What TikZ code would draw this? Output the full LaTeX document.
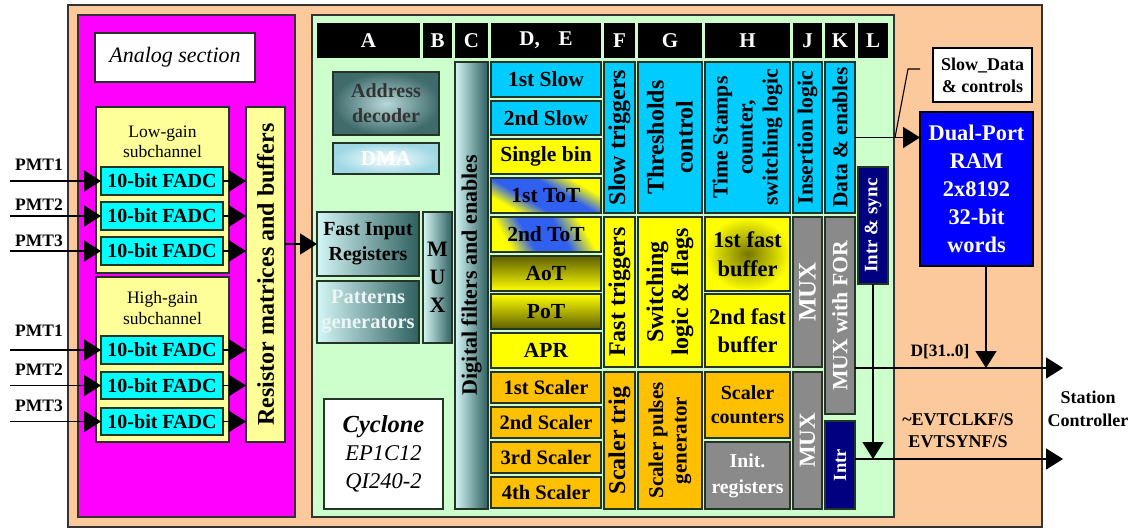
\documentclass[tikz,border=0pt]{standalone}
\usepackage{fontspec}
\setmainfont{Liberation Serif}
\usetikzlibrary{arrows.meta}
\definecolor{peach}{HTML}{FBC99B}
\definecolor{mag}{HTML}{FF00FF}
\definecolor{ltyel}{HTML}{FFFF99}
\definecolor{fadc}{HTML}{00FFFF}
\definecolor{ltgreen}{HTML}{CCFFCC}
\definecolor{cyanb}{HTML}{00CCFF}
\definecolor{yel}{HTML}{FFFF00}
\definecolor{orng}{HTML}{FFC000}
\definecolor{grayb}{HTML}{8A8A8A}
\definecolor{navyb}{HTML}{000080}
\definecolor{ramblue}{HTML}{0000FF}
\definecolor{tealL}{HTML}{D4F6F6}
\definecolor{tealD}{HTML}{2F5F5F}
\definecolor{tealM}{HTML}{B8D8D8}
\definecolor{tealO}{HTML}{3F6B6B}
\definecolor{dmaO}{HTML}{9ED8E4}
\definecolor{oliveD}{HTML}{5E5E00}
\definecolor{totblue}{HTML}{3060F0}
\definecolor{bordc}{HTML}{253525}
\pgfdeclarehorizontalshading{totsh}{100bp}{color(0bp)=(yel); color(27bp)=(yel); color(40bp)=(totblue); color(58bp)=(totblue); color(72bp)=(yel); color(100bp)=(yel)}
\newcommand\fsz[2]{\fontsize{#1}{#2}\selectfont}
\newcommand\bx[7]{\node[#6, minimum width={(#4)-(#2)}, minimum height={(#5)-(#3)}] (#1) at ({((#2)+(#4))/2},{((#3)+(#5))/2}) {#7};}
\begin{document}
\begin{tikzpicture}[x=1pt,y=-1pt,
 box/.style={draw=bordc, line width=1.1pt, inner sep=0pt, outer sep=0pt, align=center},
 outerbox/.style={draw=black!80, line width=1.6pt, inner sep=0pt, outer sep=0pt},
 hdr/.style={fill=black, inner sep=0pt, outer sep=0pt, text=white, font=\fsz{21}{24}\bfseries},
 fadcbox/.style={box, fill=fadc, font=\fsz{20}{22}\bfseries},
 de/.style={box, font=\fsz{21.5}{24}\bfseries},
 arr/.style={line width=1.5pt, -{Triangle[length=17pt,width=21pt]}},
 plainline/.style={line width=1.5pt},
 rtext/.style={rotate=90, align=center, inner sep=0pt},
 lab/.style={inner sep=0pt, align=center, font=\fsz{18}{22}\bfseries},
 tgrad/.style={left color=tealL, right color=tealD},
 olivedown/.style={top color=oliveD, bottom color=yel},
 oliveup/.style={top color=yel, bottom color=oliveD},
 tot/.style={shade, shading=totsh, shading angle=60},
 ]
\useasboundingbox (0,0) rectangle (1135,528);
% outer frames
\bx{outer}{68}{5}{1042}{527}{outerbox, fill=peach}{}
\bx{analog}{78}{15}{295}{517}{outerbox, fill=mag}{}
\bx{alab}{95}{33}{255}{82}{box, fill=white, font=\fsz{22}{26}\itshape}{Analog section}
% subchannels
\bx{lowg}{96}{107}{229}{273}{box, fill=ltyel}{}
\node[inner sep=0pt, align=center, font=\fsz{17.5}{19.5}] (lowt) at (162.5,142) {Low-gain\\subchannel};
\bx{highg}{96}{277}{229}{442}{box, fill=ltyel}{}
\node[inner sep=0pt, align=center, font=\fsz{17.5}{20.5}] (hight) at (162.5,308) {High-gain\\subchannel};
\bx{fl1}{101}{167}{223}{195}{fadcbox}{10-bit FADC}
\bx{fl2}{101}{202}{223}{230}{fadcbox}{10-bit FADC}
\bx{fl3}{101}{237}{223}{265}{fadcbox}{10-bit FADC}
\bx{fh1}{101}{336}{223}{364}{fadcbox}{10-bit FADC}
\bx{fh2}{101}{372}{223}{399}{fadcbox}{10-bit FADC}
\bx{fh3}{101}{408}{223}{435}{fadcbox}{10-bit FADC}
\bx{res}{246}{107}{285}{442}{box, fill=ltyel}{}
\node[rtext, font=\fsz{24}{26}\bfseries] (rest) at (res) {Resistor matrices and buffers};
% PMT inputs
\node[lab, font=\fsz{17.5}{20}\bfseries] (pl1) at (39,165) {PMT1};
\node[lab, font=\fsz{17.5}{20}\bfseries] (pl2) at (39,205) {PMT2};
\node[lab, font=\fsz{17.5}{20}\bfseries] (pl3) at (39,241) {PMT3};
\node[lab, font=\fsz{17.5}{20}\bfseries] (ph1) at (39,331) {PMT1};
\node[lab, font=\fsz{17.5}{20}\bfseries] (ph2) at (39,370) {PMT2};
\node[lab, font=\fsz{17.5}{20}\bfseries] (ph3) at (39,406) {PMT3};
\coordinate (il1) at (10,181);
\coordinate (il2) at (10,216);
\coordinate (il3) at (10,251);
\coordinate (ih1) at (10,350);
\coordinate (ih2) at (10,385.5);
\coordinate (ih3) at (10,421.5);
\foreach \f in {l1,l2,l3,h1,h2,h3}{
  \draw[arr] (i\f) -- (f\f.west);
  \draw[arr] (f\f.east) -- (f\f.east -| res.west);
}
% digital section
\bx{digital}{312}{15}{894}{517}{outerbox, fill=ltgreen}{}
\bx{hA}{317}{23}{420}{58}{hdr}{A}
\bx{hB}{423}{23}{452}{58}{hdr}{B}
\bx{hC}{455}{23}{488}{58}{hdr}{C}
\bx{hDE}{491}{23}{601}{58}{hdr}{D,\hspace{0.9em}E}
\bx{hF}{604}{23}{635}{58}{hdr}{F}
\bx{hG}{638}{23}{702}{58}{hdr}{G}
\bx{hH}{705}{23}{790}{58}{hdr}{H}
\bx{hJ}{793}{23}{822}{58}{hdr}{J}
\bx{hK}{825}{23}{855}{58}{hdr}{K}
\bx{hL}{858}{23}{888}{58}{hdr}{L}
% column A, B
\bx{addr}{333}{72}{439}{135}{box, inner color=tealM, outer color=tealO, text=black!80, font=\fsz{20}{25}\bfseries}{Address\\decoder}
\bx{dma}{333}{143}{439}{174}{box, inner color=white, outer color=dmaO, text=white, font=\fsz{21}{24}\bfseries}{DMA}
\bx{fir}{317}{212}{419}{276}{box, tgrad, font=\fsz{20}{25}\bfseries}{Fast Input\\Registers}
\bx{pat}{317}{281}{419}{343}{box, tgrad, text=white!92!teal, font=\fsz{20.5}{25}\bfseries}{Patterns\\generators}
\bx{muxb}{423}{212}{452}{343}{box, tgrad, font=\fsz{22}{28}\bfseries}{M\\U\\X}
\bx{cyc}{324}{399}{443}{509}{box, fill=white, font=\fsz{22.5}{28}\itshape}{{\fsz{24.5}{28}\bfseries Cyclone}\\EP1C12\\QI240-2}
% column C
\bx{dig}{455}{62}{488}{509}{box, tgrad}{}
\node[rtext, font=\fsz{22}{24}\bfseries] (digt) at (471.5,275) {Digital filters and enables};
% column D,E
\bx{s1}{491}{62}{601}{97}{de, fill=cyanb}{1st Slow}
\bx{s2}{491}{101}{601}{135}{de, fill=cyanb}{2nd Slow}
\bx{sb}{491}{139}{601}{174}{de, fill=yel}{Single bin}
\bx{t1}{491}{178}{601}{213}{de, tot}{1st ToT}
\bx{t2}{491}{217}{601}{252}{de, tot, shading angle=30}{2nd ToT}
\bx{aot}{491}{256}{601}{291}{de, olivedown}{AoT}
\bx{pot}{491}{294}{601}{329}{de, oliveup}{PoT}
\bx{apr}{491}{333}{601}{368}{de, fill=yel}{APR}
\bx{sc1}{491}{372}{601}{403}{de, fill=orng, font=\fsz{20.5}{23}\bfseries}{1st Scaler}
\bx{sc2}{491}{407}{601}{438}{de, fill=orng, font=\fsz{20.5}{23}\bfseries}{2nd Scaler}
\bx{sc3}{491}{442}{601}{473}{de, fill=orng, font=\fsz{20.5}{23}\bfseries}{3rd Scaler}
\bx{sc4}{491}{477}{601}{508}{de, fill=orng, font=\fsz{20.5}{23}\bfseries}{4th Scaler}
% column F
\bx{slt}{604}{62}{635}{213}{box, fill=cyanb}{}
\node[rtext, font=\fsz{24}{26}\bfseries] (sltt) at (slt) {Slow triggers};
\bx{fat}{604}{217}{635}{367}{box, fill=yel}{}
\node[rtext, font=\fsz{24}{26}\bfseries] (fatt) at (fat) {Fast triggers};
\bx{sct}{604}{372}{635}{509}{box, fill=orng}{}
\node[rtext, font=\fsz{24}{26}\bfseries] (sctt) at (sct) {Scaler trig};
% column G
\bx{thr}{638}{62}{702}{213}{box, fill=cyanb}{}
\node[rtext, font=\fsz{24}{29}\bfseries] (thrt) at (thr) {Thresholds\\control};
\bx{swl}{638}{217}{702}{367}{box, fill=yel}{}
\node[rtext, font=\fsz{24}{25}\bfseries] (swlt) at (swl) {Switching\\logic \& flags};
\bx{spg}{638}{372}{702}{509}{box, fill=orng}{}
\node[rtext, font=\fsz{21}{23.5}\bfseries] (spgt) at (spg) {Scaler pulses\\generator};
% column H
\bx{tsc}{705}{62}{790}{213}{box, fill=cyanb}{}
\node[rtext, font=\fsz{21.7}{25}\bfseries] (tsct) at (tsc) {Time Stamps\\counter,\\switching logic};
\bx{fb1}{705}{217}{790}{291}{box, inner color=oliveD!85!yel, outer color=yel, font=\fsz{22.5}{29}\bfseries}{1st fast\\buffer}
\bx{fb2}{705}{294}{790}{367}{box, top color=yel, middle color=oliveD!80!yel, bottom color=yel, font=\fsz{22.5}{28}\bfseries}{2nd fast\\buffer}
\bx{scc}{705}{372}{790}{438}{box, fill=orng, font=\fsz{20}{24}\bfseries}{Scaler\\counters}
\bx{ini}{705}{442}{790}{509}{box, fill=grayb, text=white, font=\fsz{19.7}{26}\bfseries}{Init.\\registers}
% column J
\bx{ins}{793}{62}{822}{213}{box, fill=cyanb}{}
\node[rtext, font=\fsz{21.7}{24}\bfseries] (inst) at (ins) {Insertion logic};
\bx{mx1}{793}{217}{822}{367}{box, fill=grayb}{}
\node[rtext, text=white, font=\fsz{25}{26}\bfseries] (mx1t) at (mx1) {MUX};
\bx{mx2}{793}{372}{822}{509}{box, fill=grayb}{}
\node[rtext, text=white, font=\fsz{23}{26}\bfseries] (mx2t) at (mx2) {MUX};
% column K
\bx{dat}{825}{62}{855}{213}{box, fill=cyanb}{}
\node[rtext, font=\fsz{21.4}{24}\bfseries] (datt) at (dat) {Data \& enables};
\bx{mxf}{825}{217}{855}{414}{box, fill=grayb}{}
\node[rtext, text=white, font=\fsz{21.8}{24}\bfseries] (mxft) at (mxf) {MUX with FOR};
\bx{intr}{825}{421}{855}{509}{box, fill=navyb}{}
\node[rtext, text=white, font=\fsz{18.6}{22}\bfseries] (intrt) at (intr) {Intr};
% column L
\bx{ins2}{858}{167}{888}{284}{box, fill=navyb}{}
\node[rtext, text=white, font=\fsz{19}{22}\bfseries] (ins2t) at (ins2) {Intr \& sync};
% right side
\bx{sdc}{933}{48}{1032}{102}{box, fill=white, draw=black, font=\fsz{18}{22}\bfseries}{Slow\_Data\\\& controls}
\bx{ram}{920}{112}{1033}{266}{box, fill=ramblue, draw=black, text=white, font=\fsz{22.4}{28}\bfseries}{Dual-Port\\RAM\\2x8192\\32-bit\\words}
\node[lab, font=\fsz{17.4}{20}\bfseries] (dlab) at (940,352) {D[31..0]};
\node[lab, font=\fsz{18}{22}\bfseries] (evt) at (958,431) {\textasciitilde EVTCLKF/S\\EVTSYNF/S};
\node[lab, font=\fsz{18}{23}\bfseries] (stc) at (1088,409) {Station\\Controller};
% connectors
\draw[arr] (res.east |- fir.west) -- (fir.west);
\draw[arr] (dat.east) -- (ram.west |- dat.east);
\coordinate (sp1) at (920,69);
\coordinate (sp2) at (908,69);
\coordinate (sp3) at (895,137.5);
\draw[line width=1.1pt] (sp1) -- (sp2) -- (sp3);
\coordinate (djoin) at (986,368);
\coordinate (dend) at (1063,368);
\draw[plainline] (mxf.east |- djoin) -- (djoin);
\draw[arr] (djoin) -- (dend);
\draw[arr] (ram.south -| djoin) -- (djoin);
\coordinate (ijoin) at (873,459);
\coordinate (iend) at (1063,459);
\draw[arr] (intr.east |- ijoin) -- (iend);
\draw[arr] (ins2.south) -- (ijoin);
\end{tikzpicture}
\end{document}
